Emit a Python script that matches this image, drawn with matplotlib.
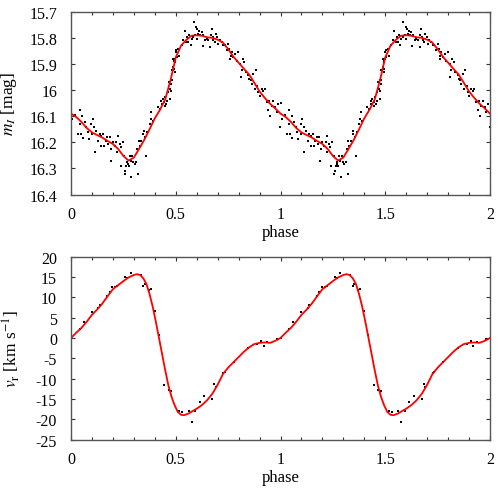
import numpy as np
import matplotlib
matplotlib.use("Agg")
from matplotlib import pyplot as plt
from matplotlib.ticker import MultipleLocator

plt.rcParams['font.family'] = ['Liberation Serif', 'DejaVu Serif']
plt.rcParams['mathtext.fontset'] = 'stix'
plt.rcParams['font.size'] = 11

# photometry, phase 0..1 (plotted twice)
phot_phase = [0.002, 0.005, 0.021, 0.041, 0.053, 0.041, 0.033, 0.046, 0.057, 0.065,
              0.073, 0.081, 0.084, 0.097, 0.105, 0.110, 0.100, 0.113, 0.121, 0.129,
              0.137, 0.145, 0.145, 0.153, 0.158, 0.165, 0.173, 0.177, 0.185, 0.189,
              0.193, 0.200, 0.208, 0.216, 0.224, 0.221, 0.232, 0.237, 0.240, 0.248,
              0.253, 0.256, 0.259, 0.264, 0.269, 0.272, 0.275, 0.280, 0.285, 0.288,
              0.293, 0.296, 0.304, 0.312, 0.317, 0.320, 0.323, 0.328, 0.336, 0.344,
              0.348, 0.355, 0.360, 0.364, 0.376, 0.380, 0.383, 0.391, 0.415, 0.423,
              0.431, 0.434, 0.439, 0.444, 0.447, 0.450, 0.455, 0.460, 0.463, 0.466,
              0.471, 0.476, 0.479, 0.482, 0.487, 0.492, 0.495, 0.498, 0.503,
              0.473, 0.476, 0.481, 0.485, 0.488, 0.492, 0.496, 0.501, 0.504, 0.512,
              0.517, 0.528, 0.536, 0.544, 0.549, 0.555, 0.560, 0.565, 0.571, 0.576,
              0.584, 0.587, 0.592, 0.597, 0.600, 0.603, 0.608, 0.613, 0.616, 0.624,
              0.628, 0.632, 0.640, 0.648, 0.656, 0.664, 0.667, 0.671, 0.676, 0.679,
              0.687, 0.692, 0.699, 0.703, 0.711, 0.719, 0.727, 0.735, 0.743, 0.751,
              0.756, 0.759, 0.762, 0.767, 0.775, 0.783, 0.791, 0.799, 0.807, 0.810,
              0.815, 0.819, 0.826, 0.835, 0.846, 0.851, 0.858, 0.862, 0.870, 0.878,
              0.883, 0.889, 0.894, 0.902, 0.910, 0.918, 0.926, 0.934, 0.942, 0.947,
              0.950, 0.958, 0.966, 0.974, 0.982, 0.990, 0.998]
phot_mag = [16.050, 16.110, 16.095, 16.078, 16.100, 16.130, 16.168, 16.168, 16.185, 16.123,
            16.142, 16.162, 16.187, 16.130, 16.110, 16.142, 16.168, 16.238, 16.155, 16.194,
            16.168, 16.174, 16.213, 16.168, 16.213, 16.194, 16.178, 16.206, 16.181, 16.270,
            16.226, 16.200, 16.213, 16.200, 16.174, 16.238, 16.206, 16.219, 16.289, 16.200,
            16.251, 16.321, 16.309, 16.289, 16.277, 16.283, 16.289, 16.251, 16.270, 16.334,
            16.251, 16.277, 16.283, 16.277, 16.226, 16.321, 16.194, 16.213, 16.194, 16.168,
            16.155, 16.181, 16.251, 16.162, 16.130, 16.110, 16.085, 16.117, 16.066, 16.072,
            16.040, 16.053, 16.034, 16.047, 16.059, 16.027, 16.053, 16.040, 16.008, 15.970,
            15.995, 15.963, 15.976, 15.925, 15.912, 15.887, 15.931, 15.880, 15.848,
            16.034, 16.002, 15.963, 15.925, 15.880, 15.919, 15.893, 15.855, 15.874, 15.842,
            15.868, 15.829, 15.810, 15.772, 15.816, 15.797, 15.816, 15.791, 15.829, 15.804,
            15.797, 15.740, 15.791, 15.759, 15.804, 15.765, 15.784, 15.772, 15.791, 15.778,
            15.832, 15.791, 15.810, 15.804, 15.810, 15.836, 15.791, 15.765, 15.797, 15.810,
            15.816, 15.784, 15.797, 15.823, 15.810, 15.816, 15.829, 15.829, 15.848, 15.823,
            15.842, 15.880, 15.868, 15.855, 15.874, 15.861, 15.887, 15.855, 15.899, 15.951,
            15.925, 15.880, 15.893, 15.931, 15.944, 15.957, 15.963, 15.976, 15.938, 15.995,
            15.925, 15.983, 16.008, 16.021, 15.995, 16.002, 15.995, 16.047, 16.078, 16.040,
            16.098, 16.059, 16.040, 16.066, 16.085, 16.053, 16.142]

# fitted light curve
fit_phase = [0.0, 0.025, 0.05, 0.075, 0.1, 0.125, 0.15, 0.175, 0.2, 0.225,
             0.25, 0.275, 0.3, 0.325, 0.35, 0.375, 0.4, 0.425, 0.45, 0.475,
             0.5, 0.525, 0.55, 0.575, 0.6, 0.625, 0.65, 0.675, 0.7, 0.725,
             0.75, 0.775, 0.8, 0.825, 0.85, 0.875, 0.9, 0.925, 0.95, 0.975, 1.0]
fit_mag = [16.090, 16.103, 16.122, 16.145, 16.162, 16.172, 16.182, 16.195, 16.206, 16.225,
           16.252, 16.270, 16.258, 16.225, 16.190, 16.150, 16.108, 16.075, 16.035, 15.962,
           15.875, 15.830, 15.808, 15.792, 15.790, 15.792, 15.798, 15.800, 15.807, 15.818,
           15.843, 15.872, 15.895, 15.918, 15.940, 15.972, 16.005, 16.030, 16.052, 16.070,
           16.090]

# radial velocities
rv_phase = [0.000, 0.041, 0.062, 0.100, 0.129, 0.137, 0.173, 0.185, 0.197, 0.212,
            0.221, 0.259, 0.269, 0.285, 0.333, 0.344, 0.352, 0.372, 0.380, 0.399,
            0.420, 0.444, 0.466, 0.479, 0.517, 0.531, 0.563, 0.576, 0.592, 0.614,
            0.637, 0.675, 0.684, 0.692, 0.727, 0.735, 0.778, 0.847, 0.890, 0.907,
            0.921, 0.937, 0.982]
rv_vel = [0.0, 2.2, 3.9, 6.5, 7.5, 8.2, 10.3, 11.2, 12.5, 12.5,
          12.9, 15.1, 14.8, 15.9, 15.5, 12.7, 13.4, 11.9, 12.1, 6.6,
          0.8, -11.5, -12.9, -13.1, -17.9, -18.3, -18.0, -20.6, -17.9, -15.8,
          -14.2, -15.0, -11.3, -12.0, -8.5, -8.4, -5.8, -2.5, -1.5, -0.7,
          -2.0, -0.9, -0.2]

# fitted velocity curve
rvfit_phase = [0.0, 0.025, 0.05, 0.075, 0.1, 0.125, 0.15, 0.175, 0.2, 0.225,
               0.25, 0.275, 0.3, 0.315, 0.33, 0.345, 0.36, 0.375, 0.39, 0.405,
               0.42, 0.435, 0.45, 0.465, 0.48, 0.495, 0.51, 0.525, 0.54, 0.56,
               0.58, 0.6, 0.625, 0.65, 0.675, 0.7, 0.725, 0.75, 0.775, 0.8,
               0.825, 0.85, 0.875, 0.9, 0.925, 0.95, 0.975, 1.0]
rvfit_vel = [0.0, 1.3, 2.5, 4.0, 5.7, 7.0, 8.5, 10.3, 12.0, 13.0,
             14.0, 14.9, 15.5, 15.7, 15.5, 14.7, 13.3, 10.8, 7.7, 4.0,
             0.0, -4.0, -8.0, -11.7, -14.5, -16.6, -18.2, -18.9, -19.0, -18.6,
             -18.0, -17.4, -16.5, -15.3, -13.7, -11.5, -8.9, -7.3, -6.0, -4.7,
             -3.4, -2.3, -1.5, -1.2, -1.1, -1.2, -0.7, 0.0]


def twice(ph, val):
    ph = np.asarray(ph)
    val = np.asarray(val)
    return np.concatenate([ph, ph + 1]), np.concatenate([val, val])


def style(ax):
    for s in ax.spines.values():
        s.set_color('#555555')
        s.set_linewidth(1.0)
    ax.tick_params(which='both', direction='in', top=True, right=True,
                   color='#333333', width=0.8, labelsize=11.5)
    ax.tick_params(axis='x', pad=8)
    ax.tick_params(axis='y', pad=10)
    ax.tick_params(which='major', length=3)
    ax.tick_params(which='minor', length=2.5)
    ax.set_xlim(0, 2)
    ax.xaxis.set_major_locator(MultipleLocator(0.5))
    ax.xaxis.set_minor_locator(MultipleLocator(0.1))
    ax.xaxis.set_major_formatter(plt.FuncFormatter(lambda v, p: '%g' % v))
    ax.set_xlabel('phase', fontsize=12, labelpad=2)


fig = plt.figure(figsize=(5.0, 4.89), dpi=100)
ax1 = fig.add_axes([0.142, 0.600, 0.838, 0.374])
ax2 = fig.add_axes([0.142, 0.099, 0.838, 0.374])

x, y = twice(phot_phase, phot_mag)
ax1.plot(x, y, 's', color='black', markersize=1.7, markeredgewidth=0)
fx, fy = twice(fit_phase, fit_mag)
ax1.plot(fx, fy, '-', color='#ff0000', linewidth=1.3)
ax1.set_ylim(16.4, 15.7)
ax1.yaxis.set_major_locator(MultipleLocator(0.1))
ax1.yaxis.set_major_formatter(plt.FuncFormatter(lambda v, p: '%g' % round(v, 1)))
ax1.set_ylabel('$m_I$ [mag]', fontsize=12.5)
ax1.yaxis.set_label_coords(-0.125, 0.5)
style(ax1)

x, y = twice(rv_phase, rv_vel)
ax2.plot(x, y, 's', color='black', markersize=1.7, markeredgewidth=0)
fx, fy = twice(rvfit_phase, rvfit_vel)
ax2.plot(fx, fy, '-', color='#ff0000', linewidth=1.3)
ax2.set_ylim(-25, 20)
ax2.yaxis.set_major_locator(MultipleLocator(5))
ax2.yaxis.set_major_formatter(plt.FuncFormatter(lambda v, p: '%d' % v))
ax2.set_ylabel(r'$v_\mathrm{r}$ [km s$^{\mathrm{-1}}$]', fontsize=12.5)
ax2.yaxis.set_label_coords(-0.117, 0.5)
style(ax2)

fig.savefig('out.png', dpi=100)
